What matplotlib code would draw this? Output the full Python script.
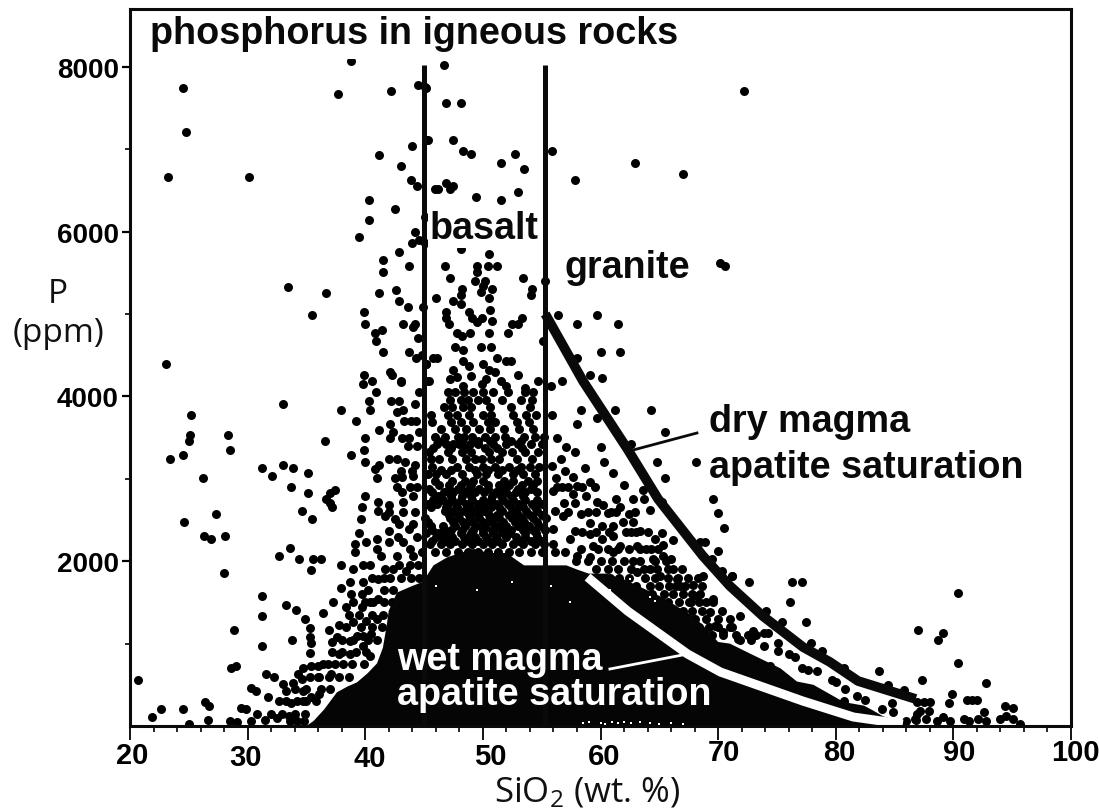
import numpy as np
import matplotlib
matplotlib.use("Agg")
import matplotlib.pyplot as plt

plt.rcParams['font.family'] = ['Liberation Sans', 'DejaVu Sans']
plt.rcParams['mathtext.default'] = 'regular'

## VALUES (SiO2 wt.%, P ppm)

left_tail = [
    (24.5,7745),(24.8,7215),(23.2,6661),(30.1,6661),(37.7,7677),(42.2,7713),(44.5,7782),(45.2,7745),(38.8,8077),
    (44.0,7041),(45.2,7114),(41.2,6936),(43.0,6798),(43.9,6628),(44.4,6560),(40.3,6382),(42.5,6280),(45.1,6175),
    (40.3,6139),(39.5,5932),(44.2,6001),(44.6,5900),(44.0,5864),(45.1,5864),(42.9,5758),(41.5,5657),(43.7,5584),
    (41.5,5516),(33.4,5333),(36.7,5261),(41.2,5261),(42.6,5297),(42.9,5160),(43.6,5091),(44.9,5091),(39.9,5022),
    (35.5,4985),(40.0,4880),(43.2,4880),(44.2,4880),(44.1,4844),(41.4,4811),(40.8,4775),(40.9,4670),(44.5,4706),
    (41.5,4536),(43.7,4536),(44.3,4467),(44.8,4504),(45.2,4395),(23.1,4395),(39.9,4257),(42.1,4293),(42.3,4257),
    (40.6,4188),(39.8,4152),(43.0,4188),(45.2,4188),
]

upper_mid = [
    (46.7,8025),(45.1,7754),(46.9,7563),(48.1,7563),(45.3,7114),(47.5,7114),(48.3,6977),(49.0,6940),(51.5,6835),
    (52.7,6940),(53.5,6766),(55.9,6977),(57.8,6628),(62.9,6835),(67.0,6697),(46.9,6592),(47.5,6560),(45.9,6523),
    (46.2,6523),(47.2,6523),(49.4,6418),(51.5,6386),(53.0,6487),(48.1,5795),(50.5,5726),(46.8,5584),(49.5,5584),
    (50.4,5584),(51.2,5584),(49.5,5516),(47.2,5435),(49.3,5406),(50.2,5406),(53.4,5435),(54.2,5305),(54.1,5232),
    (55.3,5406),(48.2,5305),(48.1,5232),(50.0,5337),(49.8,5269),(50.8,5305),(50.5,5196),(46.0,5196),(47.5,5164),
    (48.1,5127),(50.6,5054),(46.9,5022),(46.9,4949),(47.1,4880),(48.8,5022),(49.1,4949),(49.5,4900),(49.9,4949),
    (50.8,4917),(53.3,4949),(53.0,4880),(52.5,4880),(56.4,4985),(59.7,4985),(58.0,4880),(61.5,4880),(47.8,4775),
    (48.2,4739),(48.9,4775),(50.5,4775),(52.1,4775),(55.1,4670),(47.6,4605),(48.3,4569),(49.8,4605),(50.7,4605),
    (60.0,4536),(61.7,4536),(58.0,4467),(45.8,4467),(46.1,4467),(45.2,4395),(51.2,4467),(52.0,4431),(52.4,4431),
    (48.3,4431),(48.8,4375),(50.0,4395),(47.5,4326),(50.5,4326),(51.0,4293),(47.2,4212),(47.8,4233),(49.0,4253),
    (50.3,4212),(53.0,4257),(59.1,4257),(60.1,4220),(56.7,4188),(54.7,4188),(55.8,4132),(51.5,4188),(52.0,4132),
    (53.6,4099),(48.3,4132),(49.9,4152),(45.4,4188),(70.2,5620),(70.6,5580),(72.2,7710),
]

lower_left = [
    (25.2,3772),(25.1,3533),(25.0,3460),(28.3,3529),(28.5,3355),(24.5,3286),(23.4,3238),(33.0,3909),(37.9,3841),
    (39.2,3703),(36.6,3460),(38.8,3286),(26.2,3009),(27.3,2578),(24.6,2477),(26.3,2307),(26.9,2270),(28.1,2307),
    (28.0,1854),(31.2,3136),(32.1,3035),(33.0,3169),(33.9,3136),(35.1,3068),(33.7,2898),(35.1,2825),(34.6,2614),
    (35.5,2513),(37.4,2861),(37.0,2825),(36.7,2756),(37.0,2708),(37.2,2655),(33.6,2165),(32.7,2064),(34.4,2024),
    (35.6,2024),(36.2,2024),(35.4,1890),(37.9,1959),(31.2,1574),(33.3,1469),(34.1,1404),(31.2,1332),(34.9,1299),
    (35.3,1194),(36.4,1368),(37.3,1506),(37.9,1676),(38.7,1744),(28.8,1162),(31.2,975),(33.8,1040),(35.3,1077),
    (35.4,1004),(36.9,1162),(37.8,1226),(35.3,891),(37.6,1077),(37.2,1016),(28.6,700),(29.0,733),(20.7,559),
    (31.6,631),(32.2,591),(30.3,457),(30.7,429),(31.7,352),(32.7,304),(33.7,279),(22.6,211),(24.5,211),(26.4,287),
    (26.7,243),(21.9,105),(26.6,73),(29.4,223),(29.9,211),(25.0,20),(28.5,65),(29.1,45),(30.3,65),(31.5,77),
    (32.5,93),(33.5,125),(33.0,510),(33.9,522),(34.6,571),(34.3,631),(34.7,700),(35.4,733),(36.0,733),(36.1,599),
    (36.8,753),(37.1,631),(33.3,429),(34.7,429),(34.7,308),(35.4,348),(36.1,388),(37.8,874),(38.1,753),(38.7,874),
    (39.8,975),(40.4,854),(38.7,1036),(39.3,1097),(39.8,1097),(40.5,1117),(39.0,1259),(40.1,1279),(41.0,1299),
    (38.4,1441),(39.0,1502),(39.7,1441),(40.4,1502),(41.1,1542),(38.8,1603),(39.7,1603),(39.8,1744),(41.1,1785),
    (41.7,1906),(42.4,1906),(43.5,1886),(39.0,1907),(39.8,1959),(39.1,2109),(39.1,2210),(41.3,2064),(39.5,2339),
    (40.1,2230),(41.0,2270),(42.0,2230),(42.0,2372),(42.5,2513),(41.7,2554),(43.7,2392),(42.7,2068),(44.1,2068),
    (43.2,2230),(39.6,2513),(39.7,2655),(40.0,2788),(41.1,2716),(42.0,2683),(43.2,2716),(43.2,2594),(41.1,2614),
    (41.0,3009),(40.8,3120),(41.2,3169),(40.0,3205),(42.0,3242),(42.7,3242),(43.4,3201),(44.2,3169),(42.5,3009),
    (43.1,3019),(42.7,2898),(43.1,2837),(44.1,2797),(44.1,3039),(39.9,3355),(40.0,3493),(42.1,3493),(43.1,3493),
    (43.7,3493),(41.2,3598),(42.4,3574),(42.1,3667),(44.3,3703),(40.4,3841),(40.3,3946),(42.2,3946),(42.9,3946),
    (42.7,3808),(43.2,3841),(44.2,3909),(40.9,4051),(43.0,4181),(44.6,4051),(44.6,3566),
]

right_side = [
    (61.2,3841),(64.3,3841),(65.5,3565),(58.3,3841),(55.9,3776),(58.0,3671),(59.7,3735),(62.6,3428),(60.0,3391),
    (64.8,3205),(68.1,3205),(65.5,3009),(60.3,3201),(61.1,3068),(58.7,3136),(62.0,2926),(63.6,2861),(69.6,2756),
    (70.0,2582),(70.5,2408),(62.8,2756),(63.7,2756),(65.2,2724),(64.2,2618),(61.3,2756),(65.2,2339),(64.6,2270),
    (66.2,2258),(68.5,2238),(68.9,2238),(70.0,2129),(69.5,2028),(65.3,2202),(66.0,2028),(57.0,3100),(57.8,3323),
    (57.1,3391),(56.3,3493),(56.6,3242),(55.9,3161),(56.2,3009),(57.7,3027),(59.1,2958),(58.0,2918),(56.7,2898),
    (56.0,2857),(57.7,2817),(58.8,2788),(56.9,2708),(57.8,2708),(59.7,2724),(60.2,2683),(61.7,2655),(56.1,2614),
    (58.3,2574),(60.6,2582),(62.4,2574),(56.8,2554),(59.1,2465),(61.9,2473),(60.1,2432),(62.8,2473),(57.8,2372),
    (61.1,2432),(63.4,2372),(59.1,2331),(62.2,2351),(57.4,2270),(56.0,2392),(61.1,2311),(60.1,2270),(63.1,2189),
    (63.9,2149),(64.5,2028),(59.4,2189),(61.7,2189),(61.1,2109),(58.0,2068),(59.1,2048),(62.8,2007),(65.3,2068),
    (64.2,1906),(66.2,1906),(63.1,1866),(65.1,1825),(66.5,1785),(66.8,1704),(67.9,1712),(69.6,1542),(69.0,1502),
    (68.2,1582),(67.7,1502),(69.3,1380),(70.3,1400),(71.0,1299),(69.7,1218),(70.4,1137),(71.7,1057),(68.7,1825),
    (70.3,1886),(71.2,1825),
]

far_right = [
    (71.2,1817),(72.6,1748),(76.3,1748),(77.1,1748),(76.1,1501),(74.1,1400),(71.9,1335),(75.4,1262),(77.5,1262),
    (71.2,1198),(73.0,1157),(73.9,1125),(74.2,1125),(71.9,1044),(72.8,1044),(77.9,1008),(73.9,975),(75.1,1008),
    (78.8,906),(75.1,906),(76.0,874),(76.5,842),(74.4,732),(77.1,704),(77.6,684),(80.7,704),(78.4,664),(83.7,664),
    (79.7,558),(80.0,530),(87.3,558),(90.4,1610),(87.0,1161),(89.1,1125),(88.7,1044),(90.4,769),(92.8,526),
    (84.4,502),(85.8,433),(89.9,388),(89.6,283),(91.2,315),(91.6,315),(92.0,315),(86.9,287),(87.5,287),(88.0,287),
    (87.2,186),(87.9,178),(82.5,315),(84.8,283),(83.9,206),(84.9,166),(81.8,368),(80.8,449),(80.7,307),(94.4,247),
    (95.1,214),(92.6,166),(86.0,65),(86.7,85),(87.7,85),(88.6,65),(89.1,105),(89.7,65),(90.9,85),(91.3,65),(92.1,85),
    (92.8,65),(94.0,85),(94.5,125),(95.1,85),(95.7,25),(86.9,150),(86.8,70),
]

# dense part of the cloud, read row by row
cloud_p = [4050,3960,3870,3780,3690,3600,3510,3465,3420,3375,3330,3240,
           3150,3105,3060,2970,2925,2880,2835,2790,2745,2700,2655,2610,2565,2520,2475,2430,2385,2340,2295,
           2250,2205,2115]
cloud_sio2 = [
    [47.0,47.6,48.4,49.2,50.0,50.9,52.1,53.6,54.3],
    [47.2,48.1,48.7,49.6,50.3,51.6,53.2,54.2],
    [46.7,47.4,48.3,49.0,50.6,52.4,54.0],
    [45.6,47.0,47.8,48.8,50.0,50.7,52.6,53.7,54.5],
    [45.7,47.3,48.1,49.2,50.4,51.0,52.9,53.9],
    [46.4,47.6,48.6,49.7,50.6,51.8,53.1,54.3],
    [45.9,46.8,47.9,48.4,49.1,50.2,51.0,51.9,53.5,54.4,55.2],
    [46.5,48.2,49.6,50.6,52.4,53.2],
    [46.1,46.9,47.5,48.0,48.9,49.6,50.9,52.0,53.0,54.1,55.0],
    [45.8,47.3,48.5,50.2,51.2,53.3],
    [45.4,47.0,48.2,49.0,50.5,51.6,52.5,53.6,54.7],
    [45.6,46.3,47.4,48.6,49.3,49.9,50.7,51.4,52.9,54.2],
    [45.7,47.8,48.8,50.0,51.0,52.2,53.2,54.0,54.8],
    [46.4,47.3,49.3,50.4,51.6,52.9],
    [45.3,46.0,46.9,48.2,49.5,50.3,51.3,52.6,53.4,54.4],
    [45.9,47.4,48.5,49.2,50.0,51.8,52.6,53.8,54.6],
    [46.3,47.1,48.1,49.0,50.4,51.4,52.2,53.3,54.3],
    [45.4,47.1,47.9,48.8,49.7,50.4,51.6,53.0,54.1],
    [45.7,46.7,47.5,48.5,49.3,50.1,51.1,52.0,52.8,53.6,54.6],
    [46.2,47.3,48.2,49.0,50.8,51.5,52.4,53.4],
    [45.8,46.6,47.4,48.1,49.1,50.0,50.7,51.7,52.6,53.6,54.6],
    [45.3,46.1,47.0,47.7,48.6,49.6,50.3,51.2,52.1,53.1,54.2,55.0],
    [45.6,46.9,47.8,48.9,49.9,50.7,51.4,52.4,53.4,54.4],
    [46.8,47.5,48.4,49.3,50.1,51.6,52.8,53.7,54.6],
    [47.1,47.9,48.8,49.6,50.5,51.2,52.2,53.0,54.0,55.0],
    [45.1,47.2,48.0,48.9,49.7,50.6,51.4,52.5,53.3,54.3,55.4],
    [45.3,47.5,48.3,49.1,50.0,50.8,51.7,52.7,53.5,54.6],
    [45.6,46.6,47.6,48.5,49.4,50.2,51.1,52.0,53.0,53.9,54.8],
    [45.7,46.7,47.3,48.2,49.2,50.0,50.8,51.5,52.4,53.4,54.3,55.3],
    [45.2,46.2,47.0,48.1,49.0,50.0,50.9,51.7,52.3,53.6,54.5],
    [46.0,46.6,47.4,48.4,49.3,50.3,51.1,52.0,52.8,53.6,54.6],
    [45.7,46.8,47.6,48.7,49.6,50.5,51.3,53.1,54.1,55.0],
    [45.5,46.4,47.2,48.2,49.1,50.0,50.8,51.6,52.6,53.4,54.4,55.2,56.0],
    [44.8,45.9,46.9,47.9,48.7,49.6,50.4,51.3,52.2,53.1,54.1,55.0,56.1,57.0],
]

# rows right of the granite line, between the two saturation curves
band_p = [2900,2600,2350,2150,2000,1900,1800,1700,1600,1500,1400,1300,1200,1100]
band_sio2 = [
    [56.3,57.2,58.4,59.5],
    [57.2,58.9,59.6,60.9,61.3,62.9],
    [58.4,59.6,60.7,62.6,63.0,64.0],
    [58.3,59.8,60.6,61.5,62.4,63.4,64.3,64.9],
    [57.9,58.9,60.0,61.0,62.0,63.4,64.6,65.6],
    [59.6,60.6,61.5,62.6,63.7,64.8,65.7,66.9],
    [60.8,61.6,62.4,63.8,64.6,65.7,66.6,67.4,68.3],
    [62.0,63.0,64.2,65.0,65.8,66.4,67.2,68.6],
    [63.6,64.4,65.4,66.2,67.0,67.8,68.5],
    [64.9,65.7,66.7,67.5,68.4,69.6],
    [66.1,67.0,67.8,68.6],
    [67.2,68.0,69.0,70.0],
    [68.4,69.2,70.0,71.0],
    [69.5,70.4,71.5,72.5,73.2],
]

# rows on the left flank of the cloud
flank_p = [3700,3400,3100,2900,2600,2450,2300,2150,1950,1800,1650,1500,1350,1200,1050,900,750,600,450,300,150,60]
flank_sio2 = [
    [43.3,43.9],
    [43.6,44.4],
    [43.0,44.0],
    [43.8,44.4],
    [42.0,44.2],
    [42.9,44.1],
    [42.8,44.4],
    [41.0,43.8],
    [40.4,42.9,43.8,44.5],
    [40.6,41.6,42.1,43.0,43.9,44.6],
    [40.2,41.6,42.4],
    [40.0,40.7,41.6,42.3],
    [38.6,39.5,40.6,41.5],
    [38.4,39.6,40.6,41.4],
    [38.0,39.0,40.2,41.0],
    [37.2,38.0,39.2,40.1],
    [36.4,37.4,38.9,39.9],
    [35.3,36.0,36.9,37.8,38.6],
    [34.0,35.0,36.2,37.0],
    [33.3,34.2,35.0,35.8],
    [30.8,32.0,32.9,34.0,34.9],
    [33.6,34.2,34.8],
]

# outline of the part of the cloud where the dots merge into solid black
solid_sio2 = [35.0,35.6,36.5,37.6,38.5,39.3,40.2,41.0,41.5,41.8,42.0,42.7,44.0,44.9,45.8,47.0,49.2,50.5,52.0,53.5,
              54.6,56.0,57.1,58.0,59.0,60.5,62.0,63.5,65.0,66.3,68.0,69.0,70.0,71.0,72.7,74.0,75.3,76.7,78.1,80.7,
              82.4,83.2,84.0,86.0,86.2]
solid_p = [0,60,200,410,480,530,640,760,950,1200,1400,1620,1700,1750,1950,2050,2150,2100,2100,1950,
           1950,1950,1950,1900,1850,1850,1780,1680,1580,1470,1320,1180,1020,1000,880,790,700,540,500,290,
           247,186,120,20,0]

# small white gaps left inside the black mass
gap_sio2 = [58.5,59.0,60.0,60.4,61.0,61.5,62.0,62.6,63.4,64.2,65.0,66.0,67.0,
            46.0,49.5,52.5,55.8,57.4,62.5,64.2,64.6,60.8]
gap_p = [35,45,40,30,45,35,50,40,45,35,30,40,30,
         1700,1650,1750,1700,1500,1785,1562,1520,1650]

dry_sio2 = [55.3,58.5,62.3,64.9,68.7,71.0,73.8,77.2,79.5,81.9,86.8]
dry_p = [5002,4190,3360,2755,2065,1700,1335,960,777,546,328]
wet_sio2 = [58.9,62.3,67.4,70.2,77.2,81.5,85.7]
wet_p = [1808,1396,874,655,303,109,24]

basalt_line_sio2 = [45.0,45.0]
granite_line_sio2 = [55.3,55.3]
line_p = [0,8030]
dry_leader_sio2 = [62.5,68.2]
dry_leader_p = [3340,3557]
wet_leader_sio2 = [60.8,67.4]
wet_leader_p = [692,874]

x_ticks = [20,30,40,50,60,70,80,90,100]
x_minor = [22,24,26,28,32,34,36,38,42,44,46,48,52,54,56,58,62,64,66,68,72,74,76,78,82,84,86,88,92,94,96,98]
y_ticks = [2000,4000,6000,8000]
y_minor = [1000,3000,5000,7000]

# the x tick labels do not sit on one line in the original
x_label_dx = [2,-2,4,7,4,6,4,6,4]
x_label_dy = [29,31,32,30,30,26,26,26,26]


fig = plt.figure(figsize=(10.99,8.12),dpi=100)
ax = fig.add_axes([130/1099,85/812,941/1099,717/812])
ax.set_xlim(20,100)
ax.set_ylim(0,8704)

groups = [left_tail,upper_mid,lower_left,right_side,far_right]
for g in groups:
    pts = np.array(g)
    ax.scatter(pts[:,0],pts[:,1],s=42,c='k',linewidths=0,zorder=2)
for rows_p,rows_x in [(cloud_p,cloud_sio2),(band_p,band_sio2),(flank_p,flank_sio2)]:
    for p,xs in zip(rows_p,rows_x):
        ax.scatter(xs,[p]*len(xs),s=42,c='k',linewidths=0,zorder=2)
ax.fill(solid_sio2,solid_p,color='#050505',lw=0,zorder=2)
ax.scatter(gap_sio2,gap_p,s=3,c='w',marker='s',linewidths=0,zorder=2.5)

ax.axhspan(8100,8704,color='w',lw=0,zorder=3)

ax.plot(basalt_line_sio2,line_p,color='#0a0a0a',lw=3.6,solid_capstyle='butt',zorder=3)
ax.plot(granite_line_sio2,line_p,color='#0a0a0a',lw=3.6,solid_capstyle='butt',zorder=3)
ax.plot(dry_sio2,dry_p,color='#0a0a0a',lw=7,solid_capstyle='butt',zorder=3)
ax.plot(wet_sio2,wet_p,color='w',lw=6.5,solid_capstyle='butt',zorder=3)
ax.plot(dry_leader_sio2,dry_leader_p,color='#0a0a0a',lw=2,zorder=3)
ax.plot(wet_leader_sio2,wet_leader_p,color='w',lw=2,zorder=3)

for s in ax.spines.values():
    s.set_linewidth(2.2)
    s.set_color('#0a0a0a')
    s.set_zorder(5)

ax.set_xticks(x_ticks)
ax.set_xticks(x_minor,minor=True)
ax.set_yticks(y_ticks)
ax.set_yticks(y_minor,minor=True)
ax.tick_params(axis='x',which='major',length=10,width=1.3,labelbottom=False)
ax.tick_params(axis='x',which='minor',length=4,width=1.2)
ax.tick_params(axis='y',which='major',length=6,width=1.6,pad=2,labelsize=20)
ax.tick_params(axis='y',which='minor',length=3.5,width=1.2)
for lab in ax.get_yticklabels():
    lab.set_fontweight('bold')

for v,dx,dy in zip(x_ticks,x_label_dx,x_label_dy):
    ax.annotate(str(v),xy=(v,0),xycoords=('data','axes fraction'),xytext=(dx,-dy),textcoords='offset pixels',
                ha='center',va='center',fontsize=21,fontweight='bold',annotation_clip=False)

bold = dict(fontweight='bold',fontsize=27.2,va='center',ha='left',zorder=6,color='#0a0a0a')
def at(px,py):
    return ((px-130)/941,(727-py)/717)

ax.text(*at(150,34),'phosphorus in igneous rocks',transform=ax.transAxes,**bold)
ax.text(*at(430,229),'basalt',transform=ax.transAxes,
        bbox=dict(fc='w',ec='none',pad=1.0),**bold)
ax.text(*at(565,268),'granite',transform=ax.transAxes,**bold)
ax.text(*at(709,422),'dry magma',transform=ax.transAxes,**bold)
ax.text(*at(709,468),'apatite saturation',transform=ax.transAxes,**bold)
white = dict(bold,color='w')
ax.text(*at(397,660),'wet magma',transform=ax.transAxes,**white)
ax.text(*at(397,695),'apatite saturation',transform=ax.transAxes,**white)

light = dict(family=['Open Sans','DejaVu Sans'],color='#111111',ha='center',va='center')
fig.text(58/1099,1-295/812,'P',fontsize=24,**light)
fig.text(58/1099,1-333/812,'(ppm)',fontsize=24,**light)
fig.text(587/1099,1-793/812,'SiO$_2$ (wt. %)',fontsize=25,**light)

fig.savefig('out.png',dpi=100)
